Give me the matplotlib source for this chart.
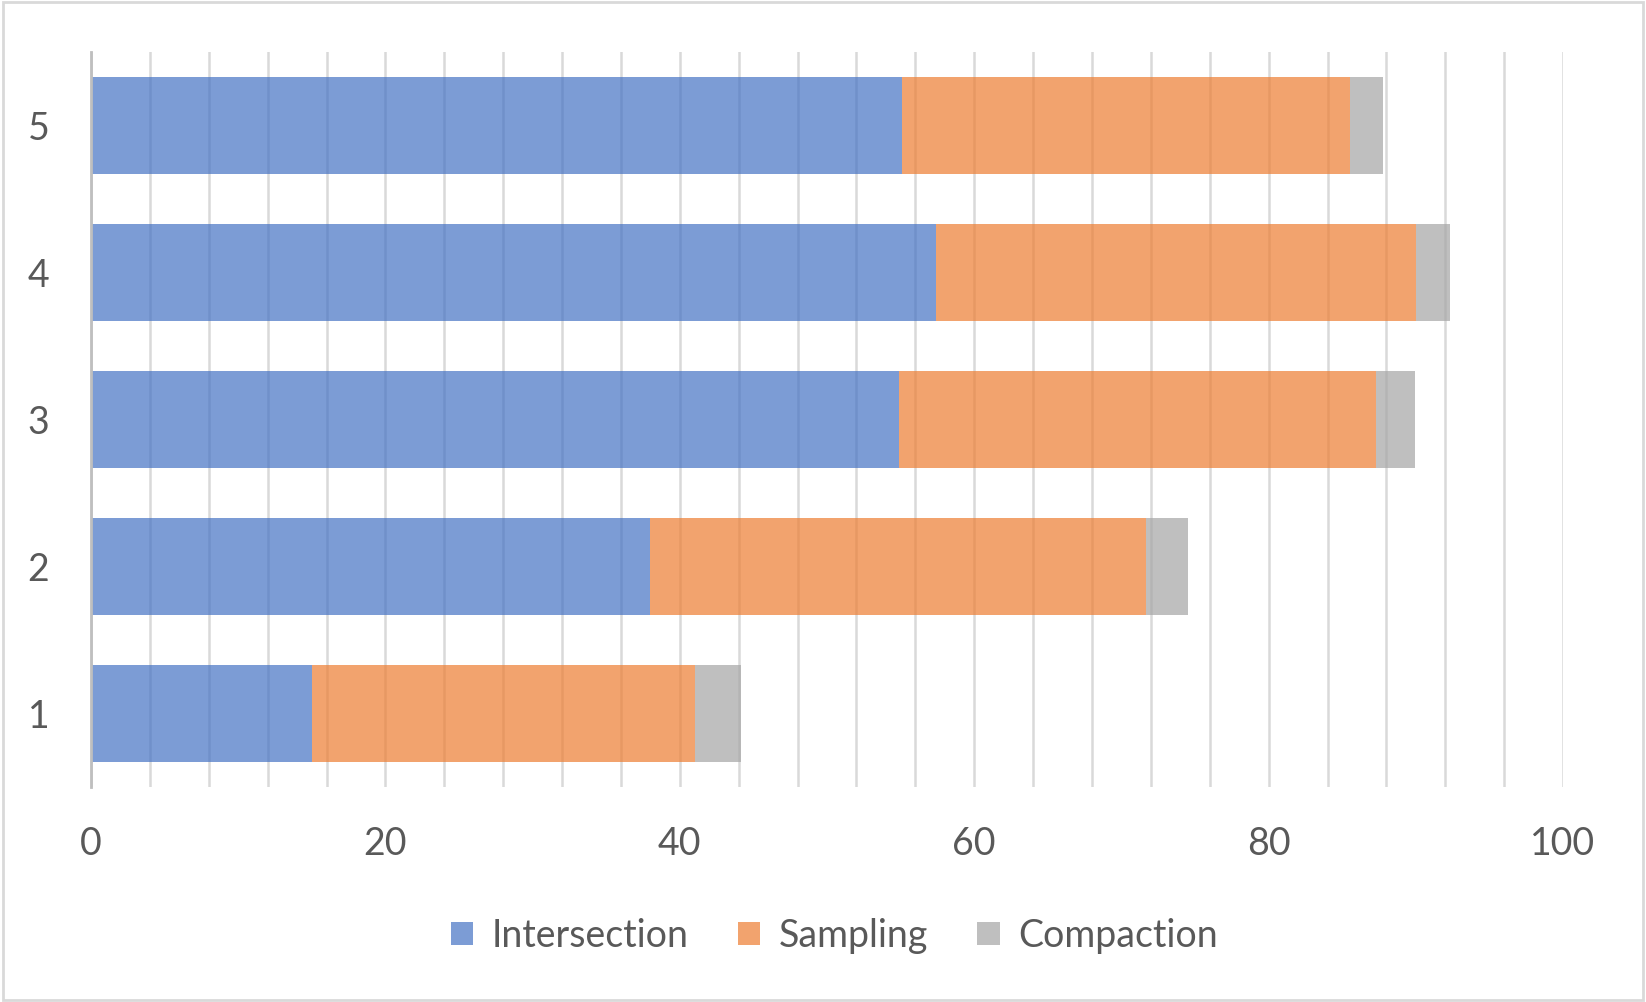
import numpy as np
import matplotlib.pyplot as plt
from matplotlib.patches import Rectangle

categorias = ["1", "2", "3", "4", "5"]
interseccion = [15.0, 38.0, 54.9, 57.4, 55.1]
muestreo = [26.0, 33.7, 32.4, 32.6, 30.4]
compactacion = [3.15, 2.85, 2.65, 2.3, 2.3]
etiquetas = ["Intersection", "Sampling", "Compaction"]
colores = ["#4472C4", "#ED7D31", "#A5A5A5"]

plt.rcParams['font.family'] = ['Lato', 'DejaVu Sans']

fig = plt.figure(figsize=(16.46, 10.02), dpi=100)
ax = fig.add_axes([0.0553, 0.2146, 0.8943, 0.7334])

y = np.arange(1, len(categorias) + 1)
izq = np.zeros(len(categorias))
for valores, nombre, color in zip([interseccion, muestreo, compactacion], etiquetas, colores):
    ax.barh(y, valores, left=izq, height=0.66, color=color, alpha=0.7,
            label=nombre, zorder=2)
    izq = izq + np.array(valores)

ax.set_xlim(0, 100)
ax.set_ylim(0.5, 5.5)
ax.set_xticks(np.arange(0, 101, 20))
ax.set_xticks(np.arange(0, 101, 4), minor=True)
ax.set_yticks(y)
ax.set_yticklabels(categorias)
ax.grid(axis='x', which='both', color='#D9D9D9', linewidth=1.8, zorder=1)
ax.set_axisbelow(True)

for lado in ['top', 'right', 'bottom']:
    ax.spines[lado].set_visible(False)
ax.spines['left'].set_color('#BFBFBF')
ax.spines['left'].set_linewidth(2)
ax.spines['left'].set_zorder(3)

ax.tick_params(axis='both', which='both', length=0, labelsize=27, colors='#595959')
ax.tick_params(axis='x', pad=28)
ax.tick_params(axis='y', pad=30)

leg = ax.legend(loc='upper center', bbox_to_anchor=(0.505, -0.132), ncol=3,
                frameon=False, fontsize=27, handlelength=0.6, handleheight=0.6,
                handletextpad=0.5, columnspacing=1.3, labelcolor='#595959')

fig.patches.append(Rectangle((0.002, 0.002), 0.996, 0.996, transform=fig.transFigure,
                             fill=False, edgecolor='#D9D9D9', linewidth=2))

fig.savefig("out.png", dpi=100)
